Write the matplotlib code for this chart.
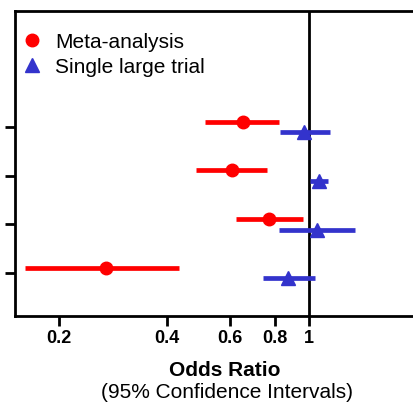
import numpy as np
import matplotlib
matplotlib.use("Agg")
import matplotlib.pyplot as plt
from matplotlib.ticker import FixedLocator, FixedFormatter, NullLocator

plt.rcParams['font.family'] = ['Liberation Sans', 'DejaVu Sans']

# comparisons, listed top to bottom
rows = [4, 3, 2, 1]

meta_or = [0.653, 0.61, 0.772, 0.271]
meta_lo = [0.512, 0.483, 0.624, 0.161]
meta_hi = [0.821, 0.762, 0.96, 0.432]

trial_or = [0.968, 1.062, 1.05, 0.87]
trial_lo = [0.83, 1.006, 0.823, 0.742]
trial_hi = [1.14, 1.132, 1.339, 1.039]

xticks = [0.2, 0.4, 0.6, 0.8, 1, 2]
xticklabels = ['0.2', '0.4', '0.6', '0.8', '1', '2']

red = '#ff0000'
blue = '#3333cc'

W, H = 414, 404
fig = plt.figure(figsize=(W / 100, H / 100), dpi=100)
# axes run past the right edge, like the cropped original
ax = fig.add_axes([15 / W, 88 / H, 465 / W, 305 / H])

y = np.array(rows, dtype=float)
off = 0.11

ax.hlines(y + off, meta_lo, meta_hi, color=red, lw=3.4, zorder=3)
ax.plot(meta_or, y + off, 'o', color=red, ms=9, zorder=4, label='Meta-analysis')
ax.hlines(y - off, trial_lo, trial_hi, color=blue, lw=3.4, zorder=3)
ax.plot(trial_or, y - off, '^', color=blue, ms=9.5, zorder=4, label='Single large trial')

ax.axvline(1, color='black', lw=2, zorder=2)

ax.set_xscale('log')
ax.set_xlim(0.1507, 3.0)
ax.set_ylim(0.117, 6.383)

ax.xaxis.set_major_locator(FixedLocator(xticks))
ax.xaxis.set_major_formatter(FixedFormatter(xticklabels))
ax.xaxis.set_minor_locator(NullLocator())
ax.set_yticks(rows)
ax.set_yticklabels([])
ax.tick_params(axis='both', direction='out', length=7, width=2)
ax.tick_params(axis='x', labelsize=13, pad=3)
for lab in ax.get_xticklabels():
    lab.set_fontweight('bold')
for s in ax.spines.values():
    s.set_linewidth(2)

ax.legend(loc='upper left', bbox_to_anchor=(19.5 / W, 1 - 32.5 / H),
          bbox_transform=fig.transFigure, frameon=False,
          fontsize=15, handletextpad=0.5, labelspacing=0.3,
          borderaxespad=0, borderpad=0, handlelength=1.2)

fig.text(225 / W, 1 - 370 / H, 'Odds Ratio', ha='center', va='center',
         fontsize=15, fontweight='bold')
fig.text(227 / W, 1 - 393 / H, '(95% Confidence Intervals)', ha='center',
         va='center', fontsize=15)

fig.savefig('out.png', dpi=100)
